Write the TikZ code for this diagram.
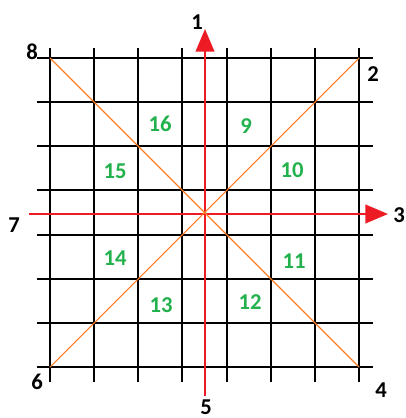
\documentclass[tikz,border=0pt]{standalone}
\usepackage{fontspec}
\setmainfont{Carlito}
\usetikzlibrary{arrows.meta}

\definecolor{axisred}{RGB}{237,28,36}
\definecolor{diagorange}{RGB}{255,127,39}
\definecolor{numgreen}{RGB}{34,177,76}

\begin{document}
\begin{tikzpicture}[
    x=0.75pt, y=-0.75pt,
    gridline/.style={draw=black, line width=1.5pt},
    axis/.style={draw=axisred, line width=1.5pt, -{Triangle[length=17pt,width=14pt]}},
    diag/.style={draw=diagorange, line width=0.8pt},
    dirlbl/.style={font=\fontsize{17}{18}\selectfont\bfseries, text=black, inner sep=0pt},
    seclbl/.style={font=\fontsize{17}{18}\selectfont\bfseries, text=numgreen, inner sep=0pt},
]
\useasboundingbox (0,0) rectangle (406,418);

% ---- grid ----------------------------------------------------------
\foreach \i in {0,...,7}{
    \draw[gridline] ({50+44.14*\i},48) -- ({50+44.14*\i},382);
    \draw[gridline] (37,{58+44.14*\i}) -- (373,{58+44.14*\i});
}

% ---- corners and axis ends -----------------------------------------
\coordinate (nw) at (50,58);
\coordinate (ne) at (359,58);
\coordinate (se) at (359,367);
\coordinate (sw) at (50,367);
\coordinate (top) at (205,29);
\coordinate (bot) at (205,396);
\coordinate (lft) at (29,214);
\coordinate (rgt) at (388,214);

% ---- axes ----------------------------------------------------------
\draw[axis] (bot) -- (top);
\draw[axis] (lft) -- (rgt);

% ---- diagonals -----------------------------------------------------
\draw[diag] (nw) -- (se);
\draw[diag] (sw) -- (ne);

% ---- direction labels ----------------------------------------------
\node[dirlbl] (d1) at (197,22)  {1};
\node[dirlbl] (d2) at (373,74)  {2};
\node[dirlbl] (d3) at (399,215) {3};
\node[dirlbl] (d4) at (381,390) {4};
\node[dirlbl] (d5) at (206,407) {5};
\node[dirlbl] (d6) at (37,382)  {6};
\node[dirlbl] (d7) at (14,225)  {7};
\node[dirlbl] (d8) at (32,52)   {8};

% ---- sector labels -------------------------------------------------
\node[seclbl] (s9)  at (246,126) {9};
\node[seclbl] (s10) at (292,170) {10};
\node[seclbl] (s11) at (294,261) {11};
\node[seclbl] (s12) at (250,302) {12};
\node[seclbl] (s13) at (161,305) {13};
\node[seclbl] (s14) at (115,258) {14};
\node[seclbl] (s15) at (115,171) {15};
\node[seclbl] (s16) at (160,124) {16};

\end{tikzpicture}
\end{document}
